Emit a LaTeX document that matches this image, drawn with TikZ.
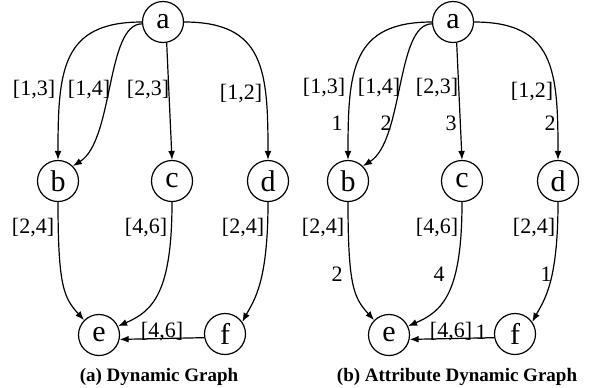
\documentclass[tikz,border=0pt]{standalone}
\usepackage{fontspec}
\setmainfont{Liberation Serif}
\usetikzlibrary{arrows.meta}
\begin{document}
\begin{tikzpicture}[x=0.5pt,y=-0.5pt,
  vertex/.style={circle,draw,line width=0.6pt,minimum size=20.5pt,inner sep=0pt,font=\fontsize{15}{15}\selectfont},
  edge/.style={line width=0.6pt,-{Latex[length=4.5pt,width=3.4pt]}},
  lbl/.style={inner sep=0pt,font=\fontsize{11}{12}\selectfont},
  captext/.style={inner sep=0pt,font=\fontsize{9.5}{10}\selectfont\bfseries}]
\useasboundingbox (0,0) rectangle (593,387);

% ---------- (a) dynamic graph ----------
\node[vertex] (a) at (163,22) {a};
\node[vertex] (b) at (58,181) {b};
\node[vertex] (c) at (172,181) {c};
\node[vertex] (d) at (268,181) {d};
\node[vertex] (e) at (99,335) {e};
\node[vertex] (f) at (225,334) {f};

\draw[edge] (a.west) .. controls +(-80,0) and +(0,-90) .. (b.north);
\draw[edge] (a.185) .. controls +(-36,0) and +(41,-26) .. (b.45);
\draw[edge] (a.-80) -- (c.north);
\draw[edge] (a.east) .. controls +(80,0) and +(0,-90) .. (d.north);
\draw[edge] (b.south) .. controls +(0,85) and +(-20,-22) .. (e.135);
\draw[edge] (c.south) .. controls +(0,90) and +(35,-15) .. (e.25);
\draw[edge] (d.south) .. controls +(0,80) and +(12,-22) .. (f.35);
\draw[edge] (f.190) -- (e.-12);

\node[lbl] (l1) at (34,90) {[1,3]};
\node[lbl] (l2) at (89,90) {[1,4]};
\node[lbl] (l3) at (148,90) {[2,3]};
\node[lbl] (l4) at (241,94) {[1,2]};
\node[lbl] (l5) at (33,228) {[2,4]};
\node[lbl] (l6) at (146,228) {[4,6]};
\node[lbl] (l7) at (243,228) {[2,4]};
\node[lbl] (l8) at (162,332) {[4,6]};

\node[captext] (capa) at (159,377) {(a) Dynamic Graph};

% ---------- (b) attribute dynamic graph ----------
\begin{scope}[xshift=145pt]
\node[vertex] (ra) at (163,22) {a};
\node[vertex] (rb) at (58,181) {b};
\node[vertex] (rc) at (172,181) {c};
\node[vertex] (rd) at (268,181) {d};
\node[vertex] (re) at (99,335) {e};
\node[vertex] (rf) at (225,334) {f};

\draw[edge] (ra.west) .. controls +(-80,0) and +(0,-90) .. (rb.north);
\draw[edge] (ra.185) .. controls +(-36,0) and +(41,-26) .. (rb.45);
\draw[edge] (ra.-80) -- (rc.north);
\draw[edge] (ra.east) .. controls +(80,0) and +(0,-90) .. (rd.north);
\draw[edge] (rb.south) .. controls +(0,85) and +(-20,-22) .. (re.135);
\draw[edge] (rc.south) .. controls +(0,90) and +(35,-15) .. (re.25);
\draw[edge] (rd.south) .. controls +(0,80) and +(12,-22) .. (rf.35);
\draw[edge] (rf.190) -- (re.-12);

\node[lbl] (r1) at (34,88) {[1,3]};
\node[lbl] (r2) at (89,88) {[1,4]};
\node[lbl] (r3) at (147,88) {[2,3]};
\node[lbl] (r4) at (242,92) {[1,2]};
\node[lbl] (r5) at (33,228) {[2,4]};
\node[lbl] (r6) at (147,228) {[4,6]};
\node[lbl] (r7) at (244,228) {[2,4]};
\node[lbl] (r8) at (161,332) {[4,6]};

\node[lbl] (w1) at (47,123) {1};
\node[lbl] (w2) at (96,123) {2};
\node[lbl] (w3) at (161,123) {3};
\node[lbl] (w4) at (260,123) {2};
\node[lbl] (w5) at (47,274) {2};
\node[lbl] (w6) at (149,274) {4};
\node[lbl] (w7) at (256,274) {1};
\node[lbl] (w8) at (191,332) {1};

\node[captext] (capb) at (167,377) {(b) Attribute Dynamic Graph};
\end{scope}
\end{tikzpicture}
\end{document}
